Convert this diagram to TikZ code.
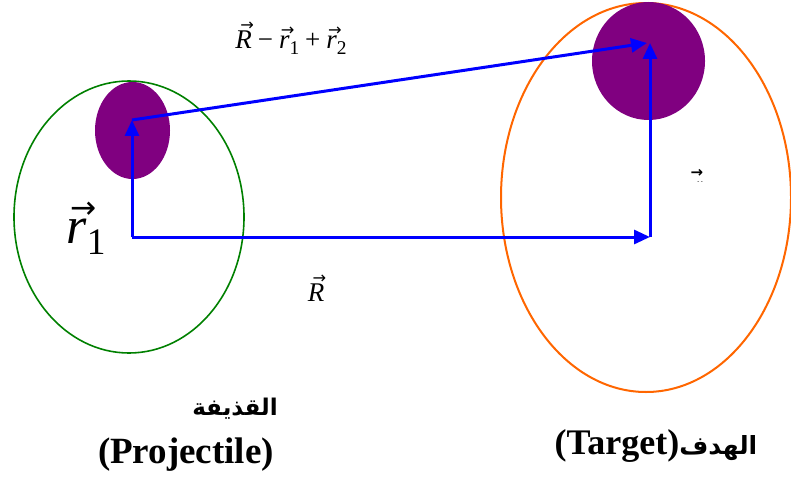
\documentclass[tikz,border=0pt]{standalone}
\usepackage{fontspec}
\setmainfont{Liberation Serif}
\newfontfamily\arabicfont[Script=Arabic]{DejaVu Sans}
\newfontfamily\symfont{DejaVu Sans}
\TeXXeTstate=1
\usetikzlibrary{arrows.meta,shapes.geometric}
\definecolor{ggreen}{RGB}{0,128,0}
\definecolor{oorange}{RGB}{255,102,0}
\definecolor{ppurple}{RGB}{128,0,128}
\definecolor{bblue}{RGB}{0,0,255}
\newcommand\vlab[1]{\leavevmode\vbox{\offinterlineskip\halign{\hfil##\hfil\cr
  \hbox to 0pt{\hss\hskip0.25em{\symfont\fontsize{0.6em}{0.6em}\selectfont →}\hss}\cr
  \noalign{\kern0.02em}
  {\itshape #1}\cr}}}
\newcommand\subn[1]{\raisebox{-0.2em}{\fontsize{0.72em}{1em}\selectfont #1}}
\newcommand\opsp{\hskip0.22em}
\begin{document}
\begin{tikzpicture}[x=1pt,y=-1pt,
  vecline/.style={draw=bblue,line width=3pt,-{Triangle[length=16pt,width=14pt]}},
  blob/.style={ellipse,fill=ppurple,inner sep=0pt},
  ring/.style={ellipse,inner sep=0pt},
  lab/.style={inner sep=0pt,anchor=center}]
\useasboundingbox (0,0) rectangle (791,481);
% ellipses
\node[ring,draw=ggreen,line width=1.6pt,minimum width=230pt,minimum height=272pt] (proj) at (129,217) {};
\node[ring,draw=oorange,line width=2pt,minimum width=290pt,minimum height=389pt] (targ) at (646,197.5) {};
\node[blob,minimum width=75pt,minimum height=97pt] (b1) at (132.5,130.5) {};
\node[blob,minimum width=113pt,minimum height=118pt] (b2) at (648.5,61) {};
% points
\coordinate (O) at (132,237);
\coordinate (P1) at (132,120);
\coordinate (C) at (650,237);
\coordinate (P2) at (650,43);
\coordinate (P2a) at (647,43);
\draw[vecline] (O) -- (P1);
\draw[vecline] (P1) -- (P2a);
\draw[vecline] (O) -- (C);
\draw[vecline] (C) -- (P2);
% labels
\node[lab,font=\fontsize{27}{30}\selectfont] (t1) at (291,38) {\vlab{R}\opsp−\opsp\vlab{r}\subn{1}\opsp+\opsp\vlab{r}\subn{2}};
\node[lab,font=\fontsize{27}{30}\selectfont] (t2) at (316,288) {\vlab{R}};
\node[lab,font=\fontsize{52}{56}\selectfont] (t3) at (86,228) {\vlab{r}\subn{1}};
\node[lab,font=\fontsize{15}{16}\selectfont\bfseries\symfont] (t4) at (697,173) {→};
\node[lab,font=\fontsize{6}{7}\selectfont] (t5) at (700,183) {- -};
\node[lab,font=\fontsize{23}{28}\selectfont\bfseries\arabicfont] (a1) at (235,409) {\beginR القذيفة\endR};
\node[lab,font=\fontsize{37}{42}\selectfont\bfseries] (a2) at (186,455) {(Projectile)};
\node[lab,font=\fontsize{36}{42}\selectfont\bfseries] (a3) at (656,446) {(Target)\arabicfont\fontsize{25}{30}\selectfont\beginR الهدف\endR};
\end{tikzpicture}
\end{document}
